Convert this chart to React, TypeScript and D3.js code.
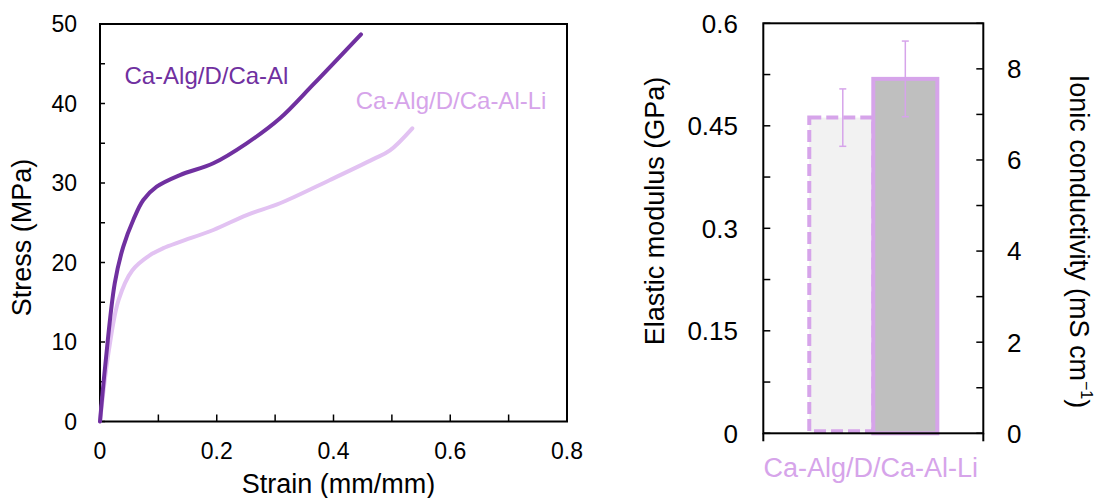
import React from "react";
import * as d3 from "d3";

// ---- Data: stress-strain curves ----
const seriesNames = ["Ca-Alg/D/Ca-Al", "Ca-Alg/D/Ca-Al-Li"];
const strainA = [0, 0.0088, 0.0253, 0.0399, 0.057, 0.0742, 0.0971, 0.137, 0.1941, 0.2513, 0.3084, 0.3654, 0.4471];
const stressA = [0, 6.9, 17.4, 22.0, 25.35, 27.86, 29.53, 31.0, 32.48, 34.99, 38.14, 42.4, 48.7];
const strainB = [0, 0.0153, 0.0319, 0.0552, 0.085, 0.1084, 0.137, 0.1941, 0.2513, 0.3084, 0.394, 0.4682, 0.4967, 0.535];
const stressB = [0, 9.0, 15.3, 19.0, 20.9, 21.8, 22.6, 24.09, 25.97, 27.45, 30.38, 33.0, 34.1, 36.88];
const strainTickLabels = ["0", "0.2", "0.4", "0.6", "0.8"];
const stressTickLabels = ["0", "10", "20", "30", "40", "50"];

// ---- Data: bar chart ----
const categories = ["Ca-Alg/D/Ca-Al-Li"];
const measures = ["modulus", "conductivity"];
const modulusValues = [0.462];
const modulusErrors = [0.042];
const conductivityValues = [7.78];
const conductivityErrors = [0.83];
const modulusTickLabels = ["0", "0.15", "0.3", "0.45", "0.6"];
const conductivityTickLabels = ["0", "2", "4", "6", "8"];

const FONT = "Arial, 'Liberation Sans', sans-serif";
const DARK = "#7030a0";
const LIGHT_LINE = "#e2c2f2";
const LIGHT = "#d6a4ea";

export default function App() {
  // Left chart
  const L = { left: 100, right: 567, top: 24, bottom: 421.5 };
  const x = d3.scaleLinear().domain([0, 0.8]).range([L.left, L.right]);
  const y = d3.scaleLinear().domain([0, 50]).range([L.bottom, L.top]);
  const line = d3
    .line<[number, number]>()
    .x((d) => x(d[0]))
    .y((d) => y(d[1]))
    .curve(d3.curveCatmullRom.alpha(0.5));
  const dataA = strainA.map((s, i) => [s, stressA[i]] as [number, number]);
  const dataB = strainB.map((s, i) => [s, stressB[i]] as [number, number]);

  // Right chart
  const R = { left: 763.3, right: 983.3, top: 23.3, bottom: 433.3 };
  const xc = d3.scaleBand<string>().domain(categories).range([R.left, R.right]).paddingInner(0).paddingOuter(0.359);
  const xm = d3.scaleBand<string>().domain(measures).range([0, xc.bandwidth()]).padding(0);
  const yL = d3.scaleLinear().domain([0, 0.6]).range([R.bottom, R.top]);
  const yR = d3.scaleLinear().domain([0, 9]).range([R.bottom, R.top]);

  const tick = 5;
  const rtick = 7;

  return (
    <svg width={1095} height={498} style={{ position: "absolute", left: 0, top: 0, background: "#fff" }} fontFamily={FONT}>
      {/* ---------- Left chart ---------- */}
      <g>
        {d3.range(0, 50.01, 5).map((v) => (
          <line key={"yt" + v} x1={L.left} x2={L.left + tick} y1={y(v)} y2={y(v)} stroke="#000" strokeWidth={1.5} />
        ))}
        {d3.range(0, 0.801, 0.1).map((v) => (
          <line key={"xt" + v} x1={x(v)} x2={x(v)} y1={L.bottom} y2={L.bottom - 7} stroke="#000" strokeWidth={1.5} />
        ))}
        <rect x={L.left} y={L.top} width={L.right - L.left} height={L.bottom - L.top} fill="none" stroke="#000" strokeWidth={2} />
        {stressTickLabels.map((t) => (
          <text key={"yl" + t} x={77} y={y(+t)} dy="0.36em" textAnchor="end" fontSize={23} fill="#000">
            {t}
          </text>
        ))}
        {strainTickLabels.map((t) => (
          <text key={"xl" + t} x={x(+t)} y={458.5} textAnchor="middle" fontSize={23} fill="#000">
            {t}
          </text>
        ))}
        <text x={338.5} y={492.5} textAnchor="middle" fontSize={27} fill="#000">
          Strain (mm/mm)
        </text>
        <text transform={`translate(31, 237.5) rotate(-90)`} textAnchor="middle" fontSize={27} fill="#000">
          Stress (MPa)
        </text>
        <path d={line(dataB) || ""} fill="none" stroke={LIGHT_LINE} strokeWidth={4} strokeLinecap="round" />
        <path d={line(dataA) || ""} fill="none" stroke={DARK} strokeWidth={4} strokeLinecap="round" />
        <text x={x(0.0418)} y={y(42.45)} fontSize={24} fill={DARK}>
          {seriesNames[0]}
        </text>
        <text x={x(0.438)} y={y(39.3)} fontSize={24} fill={LIGHT}>
          {seriesNames[1]}
        </text>
      </g>

      {/* ---------- Right chart ---------- */}
      <g>
        {categories.map((c, i) => {
          const x0 = xc(c)!;
          const w = xm.bandwidth();
          const xa = x0 + xm("modulus")!;
          const xb = x0 + xm("conductivity")!;
          const ya = yL(modulusValues[i]);
          const yb = yR(conductivityValues[i]);
          const ca = xa + w / 2 + 1.5;
          const cb = xb + w / 2;
          const cap = 3.5;
          const mTop = yL(modulusValues[i] + modulusErrors[i]);
          const mBot = yL(modulusValues[i] - modulusErrors[i]);
          const cTop = yR(conductivityValues[i] + conductivityErrors[i]);
          const cBot = yR(conductivityValues[i] - conductivityErrors[i]);
          return (
            <g key={c}>
              <rect x={xa} y={ya} width={w} height={R.bottom - 2 - ya} fill="#f2f2f2" stroke={LIGHT} strokeWidth={4} strokeDasharray="12,5" />
              <rect x={xb} y={yb} width={w} height={R.bottom - yb} fill="#bfbfbf" stroke={LIGHT} strokeWidth={4} />
              <g stroke={LIGHT} strokeWidth={1.5}>
                <line x1={ca} x2={ca} y1={mTop} y2={mBot} />
                <line x1={ca - cap} x2={ca + cap} y1={mTop} y2={mTop} />
                <line x1={ca - cap} x2={ca + cap} y1={mBot} y2={mBot} />
                <line x1={cb} x2={cb} y1={cTop} y2={cBot} />
                <line x1={cb - cap} x2={cb + cap} y1={cTop} y2={cTop} />
                <line x1={cb - cap} x2={cb + cap} y1={cBot} y2={cBot} />
              </g>
              <text x={x0 + xc.bandwidth() / 2 - 2.5} y={477} textAnchor="middle" fontSize={27} fill={LIGHT}>
                {c}
              </text>
            </g>
          );
        })}
        {d3.range(0, 0.6001, 0.075).map((v) => (
          <line key={"lt" + v} x1={R.left} x2={R.left + rtick} y1={yL(v)} y2={yL(v)} stroke="#000" strokeWidth={1.5} />
        ))}
        {d3.range(0, 9.001, 1).map((v) => (
          <line key={"rt" + v} x1={R.right} x2={R.right - rtick} y1={yR(v)} y2={yR(v)} stroke="#000" strokeWidth={1.5} />
        ))}
        <rect x={R.left} y={R.top} width={R.right - R.left} height={R.bottom - R.top} fill="none" stroke="#000" strokeWidth={2} />
        <line x1={R.left} x2={R.left} y1={R.bottom} y2={R.bottom + 8} stroke="#000" strokeWidth={2} />
        <line x1={R.right} x2={R.right} y1={R.bottom} y2={R.bottom + 8} stroke="#000" strokeWidth={2} />
        {modulusTickLabels.map((t) => (
          <text key={"ml" + t} x={738} y={yL(+t)} dy="0.36em" textAnchor="end" fontSize={26} fill="#000">
            {t}
          </text>
        ))}
        {conductivityTickLabels.map((t) => (
          <text key={"cl" + t} x={1007} y={yR(+t)} dy="0.36em" textAnchor="start" fontSize={26} fill="#000">
            {t}
          </text>
        ))}
        <text transform={`translate(664, 211) rotate(-90)`} textAnchor="middle" fontSize={27} fill="#000">
          Elastic modulus (GPa)
        </text>
        <text transform={`translate(1070, 241.5) rotate(90)`} textAnchor="middle" fontSize={27} fill="#000">
          {"Ionic conductivity (mS cm"}
          <tspan fontSize={16} dy={-11}>{"\u22121"}</tspan>
          <tspan dy={11}>{")"}</tspan>
        </text>
      </g>
    </svg>
  );
}
